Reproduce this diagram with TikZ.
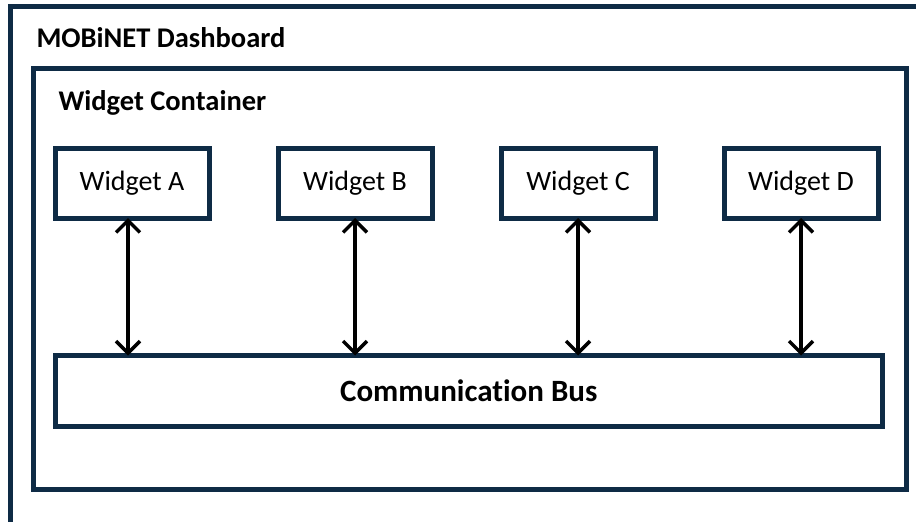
\documentclass[tikz,border=0pt]{standalone}
\usepackage{fontspec}
\setmainfont{Carlito}[Ligatures=NoCommon]
\usetikzlibrary{arrows.meta}
\usetikzlibrary{positioning}
\definecolor{navy}{RGB}{14,43,69}
\tikzstyle{panel} = [draw=navy,
line width=5pt]
\tikzstyle{widget} = [rectangle,
minimum width=154pt,
minimum height=70pt,
text centered,
draw=navy,
line width=5pt,
outer sep=0pt,
font=\fontsize{28}{32}\selectfont]
\tikzstyle{bus} = [rectangle,
minimum width=827pt,
minimum height=71pt,
text centered,
draw=navy,
line width=5pt,
outer sep=0pt,
font=\bfseries\fontsize{31}{36}\selectfont]
\tikzstyle{title} = [anchor=base west,
font=\bfseries\fontsize{28.5}{34}\selectfont]
\tikzstyle{arrow} = [line width=3.5pt,
{Straight Barb[length=12pt,width=24pt,line width=3.5pt]}-{Straight Barb[length=12pt,width=24pt,line width=3.5pt]}]

\begin{document}
\begin{tikzpicture}[x=1pt, y=-1pt]

\useasboundingbox (0,0) rectangle (916,522);
\clip (0,0) rectangle (916,522);

% dashboard frame runs off the right and bottom edges
\draw [panel] (10.5,6) rectangle (940,560);
\node (dash_title) [title] at (33,47) {MOBiNET Dashboard};

\draw [panel] (33.5,68.5) rectangle (906.5,489.5);
\node (cont_title) [title] at (55,110) {Widget Container};

\node (wid_a) [widget] at (132,183) {Widget A};
\node (wid_b) [widget, right=69pt of wid_a] {Widget B};
\node (wid_c) [widget, right=69pt of wid_b] {Widget C};
\node (wid_d) [widget, right=69pt of wid_c] {Widget D};

\node (bus) [bus] at (468.75,391) {Communication Bus};

\draw [arrow] ([xshift=-4pt]wid_a.south) -- ([xshift=-4pt]wid_a.south |- bus.north);
\draw [arrow] (wid_b) -- (wid_b |- bus.north);
\draw [arrow] (wid_c) -- (wid_c |- bus.north);
\draw [arrow] (wid_d) -- (wid_d |- bus.north);

\end{tikzpicture}
\end{document}
